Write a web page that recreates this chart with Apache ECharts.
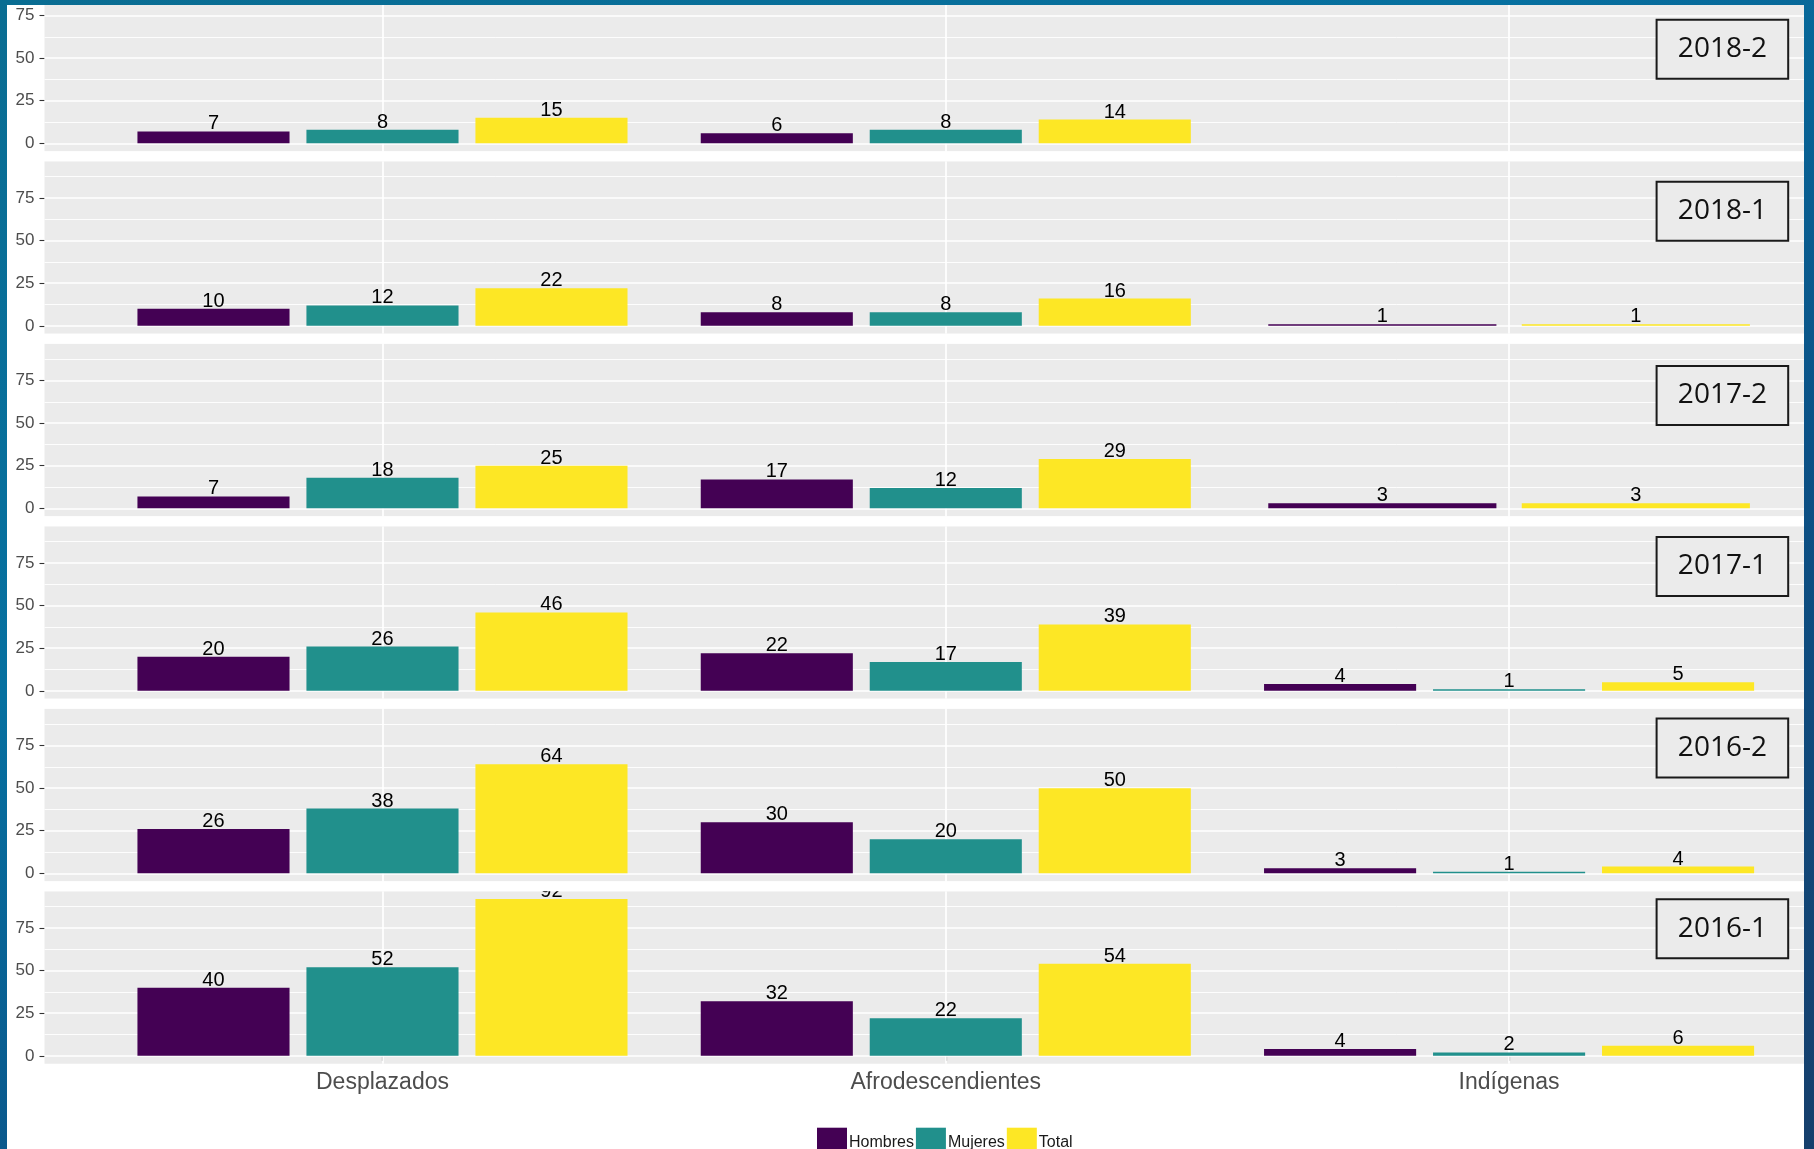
<!DOCTYPE html>
<html>
<head>
<meta charset="utf-8">
<script src="https://cdn.jsdelivr.net/npm/echarts@6/dist/echarts.min.js"></script>
<style>
    html, body { margin: 0; padding: 0; }
    body {
        width: 1814px; height: 1149px; overflow: hidden; position: relative;
        background: linear-gradient(155deg, #0a6d92 0%, #0670a0 35%, #0b5186 65%, #163f6c 100%);
    }
    #frame { position: absolute; left: 7px; top: 5px; width: 1797px; height: 1144px; background: #fff; overflow: hidden; }
    #chart { position: absolute; left: 0; top: -30px; width: 1900px; height: 1174px; }
</style>
</head>
<body>
<div id="frame"><div id="chart"></div></div>
<script>
// datos por periodo (de arriba hacia abajo)
var periods = ['2018-2', '2018-1', '2017-2', '2017-1', '2016-2', '2016-1'];
var categories = ['Desplazados', 'Afrodescendientes', 'Indígenas'];
var groupNames = ['Hombres', 'Mujeres', 'Total'];
var hombres = [[7, 6, null], [10, 8, 1], [7, 17, 3], [20, 22, 4], [26, 30, 3], [40, 32, 4]];
var mujeres = [[8, 8, null], [12, 8, null], [18, 12, null], [26, 17, 1], [38, 20, 1], [52, 22, 2]];
var total = [[15, 14, null], [22, 16, 1], [25, 29, 3], [46, 39, 5], [64, 50, 4], [92, 54, 6]];
var yTicks = [0, 25, 50, 75];
var yMinor = [12.5, 37.5, 62.5, 87.5];

var colors = ['#440154', '#21908C', '#FDE725'];
var font = '"Liberation Sans", Arial, sans-serif';

var values = [hombres, mujeres, total];
var all = [];
values.forEach(function (v) {
    v.forEach(function (row) {
        row.forEach(function (x) { if (x != null) all.push(x); });
    });
});
var dataMax = Math.max.apply(null, all);
var yMin = -dataMax * 0.05;
var yMax = dataMax * 1.05;

// layout (px, dentro del div del grafico, que empieza 30px por encima del marco)
var left = 37.5, band = 563.3, panelW = band * 3.2;
var panelH = 172.5, top0 = 3.7, pitch = 182.5;
var boxLeft = 1649.6, boxW = 131.6, boxH = 59;
var boxTop = [44.7, 206.7, 391, 562, 743.5, 924.3];

var grids = [], xAxes = [], yAxes = [], series = [], graphics = [];

periods.forEach(function (p, k) {
    var top = top0 + pitch * k;
    var last = k === periods.length - 1;
    grids.push({
        left: left, top: top, width: panelW, height: panelH,
        show: true, backgroundColor: '#EBEBEB', borderWidth: 0
    });
    yAxes.push({
        gridIndex: k, type: 'value', min: yMin, max: yMax,
        axisLine: { show: false },
        splitLine: { show: false },
        axisTick: { show: true, customValues: yTicks, length: 5, lineStyle: { color: '#333', width: 1.1 } },
        axisLabel: { customValues: yTicks, margin: 10, color: '#4D4D4D', fontSize: 17, fontFamily: font }
    });
    var baseIdx = xAxes.length;
    xAxes.push({
        gridIndex: k, type: 'value', min: 0.4, max: 3.6,
        axisLine: { show: false },
        splitLine: { show: false },
        axisTick: { show: last, customValues: [1, 2, 3], length: 5, lineStyle: { color: '#333', width: 1.1 } },
        axisLabel: {
            show: last, customValues: [1, 2, 3], margin: 7,
            color: '#4D4D4D', fontSize: 23, fontFamily: font,
            formatter: function (v) { return categories[Math.round(v) - 1]; }
        }
    });

    // lineas de fondo
    var lines = [];
    yTicks.forEach(function (v) { lines.push({ yAxis: v }); });
    yMinor.forEach(function (v) { lines.push({ yAxis: v, lineStyle: { width: 0.9 } }); });
    categories.forEach(function (c, i) { lines.push({ xAxis: i + 1 }); });
    series.push({
        type: 'line', xAxisIndex: baseIdx, yAxisIndex: k, data: [], silent: true,
        markLine: {
            silent: true, z: 1, animation: false,
            symbol: ['none', 'none'],
            label: { show: false },
            lineStyle: { color: '#ffffff', type: 'solid', width: 1.7 },
            emphasis: { disabled: true },
            data: lines
        }
    });

    // agrupar categorias segun las barras presentes (como el dodge de ggplot)
    var groups = {};
    categories.forEach(function (c, i) {
        var present = [];
        values.forEach(function (v, s) { if (v[k][i] != null) present.push(s); });
        if (!present.length) return;
        var key = 'k' + present.join('');
        if (!groups[key]) groups[key] = { present: present, cats: [] };
        groups[key].cats.push(i);
    });
    Object.keys(groups).forEach(function (key, g) {
        var grp = groups[key];
        var axisIdx = baseIdx;
        if (g > 0) {
            axisIdx = xAxes.length;
            xAxes.push({ gridIndex: k, type: 'value', min: 0.4, max: 3.6, show: false });
        }
        var n = grp.present.length;
        var bw = band * 0.9 / n * 0.9;
        grp.present.forEach(function (s) {
            series.push({
                type: 'bar', name: groupNames[s],
                xAxisIndex: axisIdx, yAxisIndex: k,
                barWidth: bw, barGap: '11.11%', z: 2,
                itemStyle: { color: colors[s] },
                label: {
                    show: true, position: 'top', distance: 0, offset: [0, 2.5],
                    color: '#000', fontSize: 20, fontFamily: font,
                    formatter: function (pr) { return pr.value[1]; }
                },
                data: grp.cats.map(function (i) { return [i + 1, values[s][k][i]]; })
            });
        });
    });

    // recuadro del periodo
    graphics.push({
        type: 'rect', z: 100,
        shape: { x: boxLeft, y: boxTop[k], width: boxW, height: boxH },
        style: { fill: '#EBEBEB', stroke: '#1a1a1a', lineWidth: 2 }
    });
    graphics.push({
        type: 'text', z: 101,
        x: boxLeft + boxW / 2, y: boxTop[k] + boxH / 2,
        style: {
            text: p, font: '28px "Open Sans", "Noto Sans", sans-serif', fill: '#111',
            textAlign: 'center', textVerticalAlign: 'middle', align: 'center', verticalAlign: 'middle'
        }
    });
    // separacion blanca entre paneles
    if (!last) {
        graphics.push({
            type: 'rect', z: 100,
            shape: { x: 0, y: top + panelH, width: 1900, height: pitch - panelH },
            style: { fill: '#ffffff' }
        });
    }
});

var chart = echarts.init(document.getElementById('chart'));
chart.setOption({
    animation: false,
    textStyle: { fontFamily: font },
    grid: grids,
    xAxis: xAxes,
    yAxis: yAxes,
    legend: {
        data: groupNames, icon: 'rect', selectedMode: false,
        itemWidth: 30, itemHeight: 30, itemGap: 2,
        left: 805, top: 1147.7,
        textStyle: { fontSize: 16, color: '#1a1a1a', fontFamily: font, padding: [0, 0, 3, -3] }
    },
    graphic: { elements: graphics },
    series: series
});
</script>
</body>
</html>
